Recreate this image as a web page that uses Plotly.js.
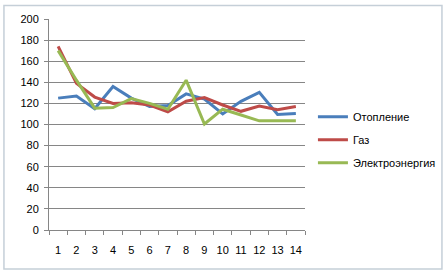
<!DOCTYPE html>
<html>
<head>
<meta charset="utf-8">
<script src="https://cdn.plot.ly/plotly-3.0.1.min.js"></script>
<style>html,body{margin:0;padding:0;background:#fff;}#chart{width:448px;height:276px;}</style>
</head>
<body>
<div id="chart"></div>
<script>
const categories = ['1','2','3','4','5','6','7','8','9','10','11','12','13','14'];
const seriesNames = ['Отопление', 'Газ', 'Электроэнергия'];
const heating = [125, 127, 115, 136, 125, 117, 118, 129, 124, 110, 122, 130.5, 109.5, 110.5];
const gas = [174, 139, 126, 120, 120.5, 118.5, 112, 122, 125.5, 118.5, 112.5, 117.5, 114, 117];
const electricity = [170, 142, 115.5, 116, 124.5, 120, 114.5, 142, 100.5, 114.5, 109, 103.5, 103.5, 103.5];
const colors = ['#4A7EBB', '#BE4B48', '#98B954'];

const series = [heating, gas, electricity];
const traces = series.map((vals, i) => ({
  type: 'scatter', mode: 'lines', x: categories, y: vals, name: seriesNames[i],
  line: {color: colors[i], width: 3}, legendgroup: 'g' + i
}));

const layout = {
  width: 448, height: 276,
  margin: {l: 49, r: 143, t: 19, b: 46, autoexpand: false},
  paper_bgcolor: '#ffffff', plot_bgcolor: '#ffffff',
  font: {family: 'Liberation Sans, Arial, sans-serif', size: 11, color: '#000'},
  showlegend: true,
  legend: {x: 1.031, xanchor: 'left', y: 0.605, yanchor: 'top', tracegroupgap: 4,
    font: {size: 11}, bgcolor: 'rgba(0,0,0,0)'},
  xaxis: {type: 'category', range: [-0.5, 13.5], tickson: 'boundaries', ticks: 'outside', ticklen: 4,
    tickcolor: '#868686', showline: true, linecolor: '#868686', linewidth: 1,
    showgrid: false, zeroline: false, tickfont: {size: 11}, tickangle: 0, ticklabelstandoff: 10},
  yaxis: {range: [0, 200], dtick: 20, ticks: 'outside', ticklen: 4, tickcolor: '#868686',
    showline: true, linecolor: '#868686', showgrid: true, gridcolor: '#868686', gridwidth: 1,
    zeroline: false, tickfont: {size: 11}, ticklabelstandoff: 3},
  shapes: [{type: 'rect', xref: 'paper', yref: 'paper', x0: -0.176, x1: 1.535, y0: -0.185, y1: 1.064,
    line: {color: '#c5cfd8', width: 1.5}, fillcolor: 'rgba(0,0,0,0)', layer: 'below'}]
};

Plotly.newPlot('chart', traces, layout, {displayModeBar: false, staticPlot: true});
</script>
</body>
</html>
